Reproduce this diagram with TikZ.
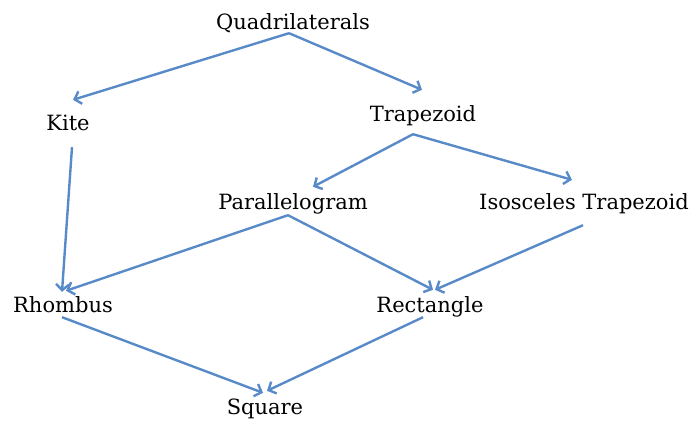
\documentclass[tikz,border=0pt]{standalone}
\usepackage{fontspec}
\setmainfont{DejaVu Serif}
\usepackage{xcolor}
\usetikzlibrary{arrows.meta}

\definecolor{linkblue}{RGB}{88,138,200}

\begin{document}
\begin{tikzpicture}[
    x=1pt, y=-1pt,
    term/.style={inner sep=0pt, text height=15pt, text depth=4pt, anchor=base, font=\fontsize{21}{24}\selectfont},
    arrow/.style={-{Straight Barb[length=6pt, width=13pt]}, linkblue, line width=2.4pt}
]
\useasboundingbox (0,0) rectangle (695,423);

% Shapes
\node[term] (quad) at (293,29) {Quadrilaterals};
\node[term] (kite) at (68,130) {Kite};
\node[term] (trap) at (423,121) {Trapezoid};
\node[term] (para) at (293,209) {Parallelogram};
\node[term] (isos) at (584,209) {Isosceles Trapezoid};
\node[term] (rhom) at (63,312) {Rhombus};
\node[term] (rect) at (430,312) {Rectangle};
\node[term] (sq) at (265,414) {Square};

% Arrows
\draw[arrow] ([shift={(-4,0)}]quad.south) -- ([shift={(5,-15)}]kite.north);
\draw[arrow] ([shift={(-4,0)}]quad.south) -- ([shift={(-1,-16)}]trap.north);
\draw[arrow] ([shift={(-10,9)}]trap.south) -- ([shift={(20,-7)}]para.north);
\draw[arrow] ([shift={(-10,9)}]trap.south) -- ([shift={(-12,-14)}]isos.north);
\draw[arrow] ([shift={(4,13)}]kite.south) -- ([shift={(-1,-5)}]rhom.north);
\draw[arrow] ([shift={(-5,2)}]para.south) -- ([shift={(3,-6)}]rhom.north);
\draw[arrow] ([shift={(-5,2)}]para.south) -- ([shift={(3,-7)}]rect.north);
\draw[arrow] ([shift={(-1,12)}]isos.south) -- ([shift={(5,-7)}]rect.north);
\draw[arrow] ([shift={(-1,1)}]rhom.south) -- ([shift={(-2,-6)}]sq.north);
\draw[arrow] ([shift={(-7,1)}]rect.south) -- ([shift={(2,-8)}]sq.north);

\end{tikzpicture}
\end{document}
